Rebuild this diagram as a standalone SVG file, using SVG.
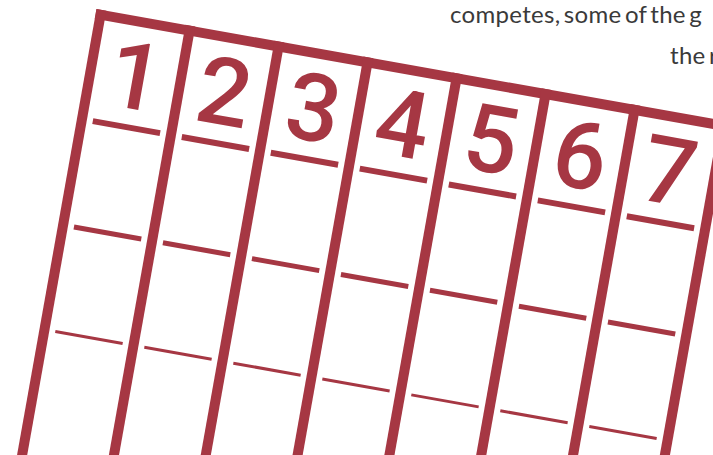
<svg xmlns="http://www.w3.org/2000/svg" width="713" height="455" viewBox="0 0 713 455">
  <style>
    .bar { fill: #a63743; }
    .ln { stroke: #a63743; stroke-linecap: butt; }
    .l1 { stroke-width: 6; }
    .l2 { stroke-width: 5; }
    .l3 { stroke-width: 3; }
    .num { fill: #a63743; font-family: Roboto, "Liberation Sans", sans-serif; font-size: 94px; font-weight: 500; text-anchor: middle; }
    .copy { fill: #3a3a3a; font-family: Lato, "Liberation Sans", sans-serif; font-size: 24px; font-weight: 400; letter-spacing: 0.3px; word-spacing: -3px; }
  </style>
  <rect width="713" height="455" fill="#ffffff"/>
  <g id="copy">
    <text class="copy" x="450" y="23">competes, some of the g</text>
    <text class="copy" x="670" y="64">the r</text>
  </g>
  <g id="grid" transform="translate(96.5,9) rotate(10.1)">
    <g id="frame">
      <rect class="bar" x="0" y="0" width="800" height="10"/>
      <rect class="bar" x="0" y="0" width="10" height="500"/>
      <rect class="bar" x="90.4" y="0" width="10" height="500"/>
      <rect class="bar" x="180.8" y="0" width="10" height="500"/>
      <rect class="bar" x="271.2" y="0" width="10" height="500"/>
      <rect class="bar" x="361.6" y="0" width="10" height="500"/>
      <rect class="bar" x="452" y="0" width="10" height="500"/>
      <rect class="bar" x="542.4" y="0" width="10" height="500"/>
      <rect class="bar" x="632.8" y="0" width="10" height="500"/>
    </g>
    <g id="col1">
      <text class="num" x="50.2" y="92">1</text>
      <line class="ln l1" x1="16" y1="111" x2="84.4" y2="111"/>
      <line class="ln l2" x1="16" y1="218.5" x2="84.4" y2="218.5"/>
      <line class="ln l3" x1="16" y1="324.7" x2="84.4" y2="324.7"/>
    </g>
    <g id="col2">
      <text class="num" x="140.6" y="92">2</text>
      <line class="ln l1" x1="106.4" y1="111" x2="174.8" y2="111"/>
      <line class="ln l2" x1="106.4" y1="218.5" x2="174.8" y2="218.5"/>
      <line class="ln l3" x1="106.4" y1="324.7" x2="174.8" y2="324.7"/>
    </g>
    <g id="col3">
      <text class="num" x="231" y="92">3</text>
      <line class="ln l1" x1="196.8" y1="111" x2="265.2" y2="111"/>
      <line class="ln l2" x1="196.8" y1="218.5" x2="265.2" y2="218.5"/>
      <line class="ln l3" x1="196.8" y1="324.7" x2="265.2" y2="324.7"/>
    </g>
    <g id="col4">
      <text class="num" x="321.4" y="92">4</text>
      <line class="ln l1" x1="287.2" y1="111" x2="355.6" y2="111"/>
      <line class="ln l2" x1="287.2" y1="218.5" x2="355.6" y2="218.5"/>
      <line class="ln l3" x1="287.2" y1="324.7" x2="355.6" y2="324.7"/>
    </g>
    <g id="col5">
      <text class="num" x="411.8" y="92">5</text>
      <line class="ln l1" x1="377.6" y1="111" x2="446" y2="111"/>
      <line class="ln l2" x1="377.6" y1="218.5" x2="446" y2="218.5"/>
      <line class="ln l3" x1="377.6" y1="324.7" x2="446" y2="324.7"/>
    </g>
    <g id="col6">
      <text class="num" x="502.2" y="92">6</text>
      <line class="ln l1" x1="468" y1="111" x2="536.4" y2="111"/>
      <line class="ln l2" x1="468" y1="218.5" x2="536.4" y2="218.5"/>
      <line class="ln l3" x1="468" y1="324.7" x2="536.4" y2="324.7"/>
    </g>
    <g id="col7">
      <text class="num" x="592.6" y="92">7</text>
      <line class="ln l1" x1="558.4" y1="111" x2="626.8" y2="111"/>
      <line class="ln l2" x1="558.4" y1="218.5" x2="626.8" y2="218.5"/>
      <line class="ln l3" x1="558.4" y1="324.7" x2="626.8" y2="324.7"/>
    </g>
  </g>
</svg>
